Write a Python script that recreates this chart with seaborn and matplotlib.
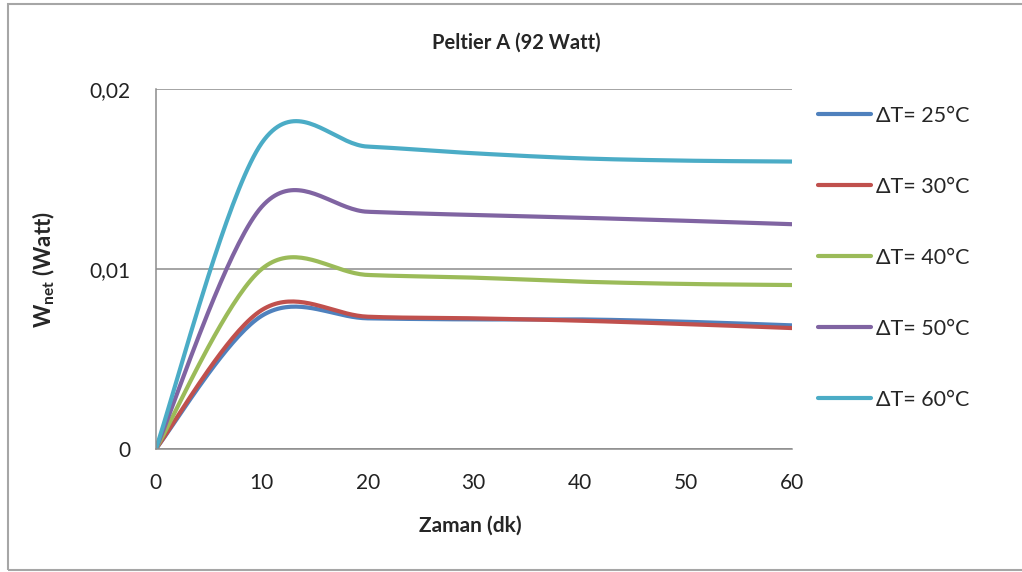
import numpy as np
import pandas as pd
import matplotlib
matplotlib.use("Agg")
import matplotlib.pyplot as plt
import seaborn as sns
from matplotlib.patches import Rectangle
from matplotlib.ticker import FuncFormatter

# values (Excel smoothed line through these points)
zaman = [0, 10, 20, 30, 40, 50, 60]
dt25 = [0, 0.0074, 0.00726, 0.00720, 0.00720, 0.00707, 0.00687]
dt30 = [0, 0.00772, 0.00735, 0.00726, 0.00713, 0.00694, 0.00672]
dt40 = [0, 0.0100, 0.00967, 0.00952, 0.00930, 0.00917, 0.00911]
dt50 = [0, 0.01346, 0.01318, 0.01300, 0.01285, 0.01268, 0.01249]
dt60 = [0, 0.0170, 0.01680, 0.01643, 0.01615, 0.01602, 0.01597]

labels = ["ΔT= 25°C", "ΔT= 30°C", "ΔT= 40°C", "ΔT= 50°C", "ΔT= 60°C"]
colors = ["#4F81BD", "#C0504D", "#9BBB59", "#8064A2", "#4BACC6"]
series = [dt25, dt30, dt40, dt50, dt60]


def smooth(xs, ys, n=40):
    # Excel-style smoothed line: cubic bezier with control points at 1/6 of neighbour span
    p = np.column_stack([xs, ys]).astype(float)
    ext = np.vstack([p[0], p, p[-1]])
    out = []
    for i in range(len(p) - 1):
        p0, p1 = ext[i + 1], ext[i + 2]
        c1 = p0 + (ext[i + 2] - ext[i]) / 6
        c2 = p1 - (ext[i + 3] - ext[i + 1]) / 6
        t = np.linspace(0, 1, n, endpoint=(i == len(p) - 2))[:, None]
        seg = (1 - t) ** 3 * p0 + 3 * (1 - t) ** 2 * t * c1 + 3 * (1 - t) * t ** 2 * c2 + t ** 3 * p1
        out.append(seg)
    return np.vstack(out)


frames = []
for lab, ys in zip(labels, series):
    c = smooth(zaman, ys)
    frames.append(pd.DataFrame({"Zaman": c[:, 0], "W": c[:, 1], "seri": lab}))
df = pd.concat(frames, ignore_index=True)

sns.set_style("white")
plt.rcParams["font.family"] = ["Lato", "DejaVu Sans"]

fig = plt.figure(figsize=(10.22, 5.72), dpi=100)
ax = fig.add_axes([0.1524, 0.215, 0.6223, 0.6294])

sns.lineplot(data=df, x="Zaman", y="W", hue="seri", hue_order=labels,
             palette=colors, linewidth=3.0, sort=False, estimator=None, ax=ax)

ax.set_xlim(0, 60)
ax.set_ylim(0, 0.02)
ax.set_xticks([0, 10, 20, 30, 40, 50, 60])
ax.set_yticks([0, 0.01, 0.02])
ax.yaxis.set_major_formatter(FuncFormatter(lambda v, _: "0" if v == 0 else f"{v:.2f}".replace(".", ",")))
ax.tick_params(axis="both", length=0, labelsize=15, colors="#222222")
ax.tick_params(axis="x", pad=17)
ax.tick_params(axis="y", pad=18)
ax.yaxis.grid(True, color="#8c8c8c", linewidth=1.1)
ax.set_axisbelow(True)
for s in ["top", "right"]:
    ax.spines[s].set_visible(False)
for s in ["left", "bottom"]:
    ax.spines[s].set_color("#8c8c8c")
    ax.spines[s].set_linewidth(1.1)

ax.set_xlabel("Zaman (dk)", fontsize=15, fontweight="bold")
ax.xaxis.set_label_coords(0.495, -0.185)
ax.set_ylabel(r"W$_{\mathregular{net}}$ (Watt)", fontsize=16, fontweight="bold")
ax.yaxis.set_label_coords(-0.155, 0.5)
fig.text(0.505, 0.925, "Peltier A (92 Watt)", ha="center", va="center", fontsize=14.5, fontweight="bold")

handles, hl = ax.get_legend_handles_labels()
ax.legend(handles, hl, loc="upper left", bbox_to_anchor=(0.781, 0.849), bbox_transform=fig.transFigure,
          frameon=False, fontsize=15.5, labelspacing=2.37, handlelength=2.5, handletextpad=0.2)

fig.patches.append(Rectangle((8 / 1022, 2 / 572), 1.1, 566 / 572, transform=fig.transFigure,
                             fill=False, edgecolor="#a6a6a6", linewidth=1.5))

fig.savefig("out.png", dpi=100)
